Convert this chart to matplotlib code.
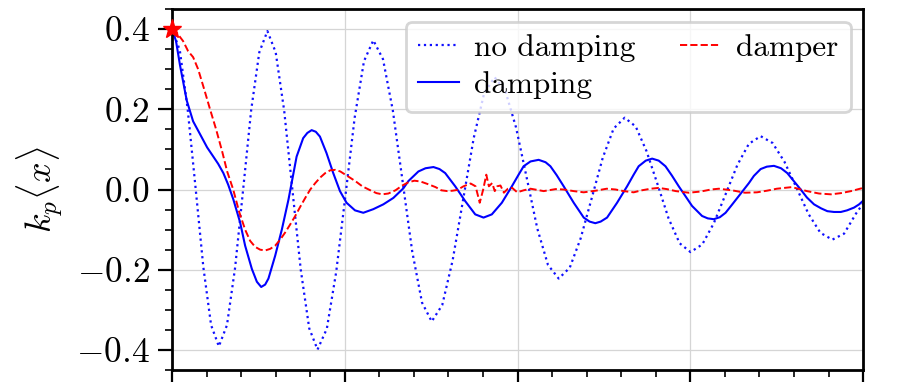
import matplotlib
matplotlib.use("Agg")
import matplotlib.pyplot as plt
from matplotlib.ticker import MultipleLocator

plt.rcParams['font.family'] = ['cmr10', 'DejaVu Serif']
plt.rcParams['mathtext.fontset'] = 'cm'
plt.rcParams['axes.formatter.use_mathtext'] = True
plt.rcParams['axes.unicode_minus'] = True

# ---- data ----
t_nodamp = [0, 0.45, 0.90, 1.36, 1.81, 2.26,
            2.71, 3.18, 3.65, 4.12, 4.58, 5.05,
            5.52, 6.00, 6.49, 6.97, 7.45, 7.94,
            8.42, 8.96, 9.50, 10.04, 10.57, 11.11,
            11.65, 12.21, 12.78, 13.34, 13.90, 14.47,
            15.03, 15.64, 16.24, 16.85, 17.46, 18.06,
            18.67, 19.29, 19.91, 20.53, 21.14, 21.76,
            22.38, 23.02, 23.65, 24.29, 24.93, 25.56,
            26.20, 26.84, 27.47, 28.11, 28.74, 29.38,
            30.01, 30.69, 31.36, 32.04, 32.72, 33.39,
            34.07, 34.76, 35.45, 36.15, 36.84, 37.53,
            38.22, 38.90, 39.59, 40.0]
x_nodamp = [0.400, 0.347, 0.202, 0.005, -0.193, -0.338,
            -0.391, -0.338, -0.195, 0.002, 0.198, 0.342,
            0.395, 0.342, 0.197, -0.002, -0.200, -0.346,
            -0.399, -0.347, -0.206, -0.014, 0.179, 0.320,
            0.372, 0.325, 0.197, 0.022, -0.154, -0.282,
            -0.329, -0.288, -0.177, -0.025, 0.128, 0.239,
            0.280, 0.246, 0.155, 0.029, -0.097, -0.188,
            -0.222, -0.195, -0.122, -0.022, 0.079, 0.152,
            0.179, 0.157, 0.095, 0.012, -0.072, -0.134,
            -0.156, -0.137, -0.084, -0.012, 0.061, 0.114,
            0.133, 0.116, 0.069, 0.004, -0.061, -0.108,
            -0.125, -0.110, -0.060, -0.035]

t_damp = [0, 0.23, 0.46, 0.85, 1.22, 1.62, 2.03, 2.39, 2.67, 2.97,
          3.25, 3.55, 3.94, 4.23, 4.62, 4.91, 5.16, 5.39, 5.58, 5.97,
          6.36, 6.74, 7.03, 7.21, 7.59, 7.83, 8.08, 8.32, 8.56, 8.94,
          9.33, 9.72, 10.10, 10.59, 11.07, 11.65, 12.23, 12.81, 13.39, 13.68,
          14.26, 14.67, 15.13, 15.48, 15.81, 16.39, 16.97, 17.55, 18.03, 18.51,
          19.09, 19.67, 20.06, 20.35, 20.75, 21.22, 21.62, 21.90, 22.26, 22.67,
          23.25, 23.83, 24.17, 24.50, 24.81, 25.18, 25.76, 26.34, 26.72, 27.01,
          27.42, 27.79, 28.17, 28.56, 28.93, 29.33, 29.74, 30.10, 30.68, 31.01,
          31.36, 31.71, 32.04, 32.41, 32.81, 33.39, 33.68, 34.07, 34.43, 34.84,
          35.25, 35.61, 35.99, 36.39, 36.75, 37.16, 37.57, 37.93, 38.32, 38.71,
          39.07, 39.48, 39.77, 40.0]
x_damp = [0.400, 0.370, 0.310, 0.222, 0.170, 0.138, 0.105, 0.082, 0.064, 0.041,
          0.012, -0.025, -0.082, -0.140, -0.198, -0.230, -0.243, -0.237, -0.222, -0.165,
          -0.099, -0.025, 0.041, 0.082, 0.128, 0.141, 0.148, 0.144, 0.132, 0.091,
          0.041, -0.004, -0.033, -0.052, -0.058, -0.049, -0.037, -0.021, 0.003, 0.021,
          0.045, 0.053, 0.056, 0.051, 0.041, 0.008, -0.029, -0.062, -0.070, -0.062,
          -0.033, 0.008, 0.037, 0.058, 0.070, 0.074, 0.068, 0.058, 0.036, 0.008,
          -0.033, -0.070, -0.080, -0.084, -0.080, -0.070, -0.033, 0.008, 0.037, 0.058,
          0.072, 0.077, 0.072, 0.058, 0.035, 0.008, -0.018, -0.041, -0.066, -0.072,
          -0.074, -0.069, -0.058, -0.038, -0.016, 0.016, 0.034, 0.051, 0.057, 0.059,
          0.053, 0.041, 0.021, 0.0, -0.020, -0.037, -0.047, -0.054, -0.056, -0.056,
          -0.052, -0.045, -0.037, -0.028]

t_damper = [0, 0.29, 0.64, 0.93, 1.22, 1.51, 1.86, 2.20, 2.55, 2.90,
            3.19, 3.54, 3.88, 4.23, 4.52, 4.81, 5.10, 5.39, 5.68, 5.97,
            6.26, 6.55, 6.84, 7.13, 7.42, 7.71, 8.00, 8.29, 8.58, 8.87,
            9.16, 9.45, 9.74, 10.03, 10.61, 11.01, 11.48, 11.83, 12.17, 12.52,
            12.93, 13.33, 13.68, 14.03, 14.38, 14.84, 15.25, 15.59, 15.94, 16.23,
            16.52, 16.87, 17.28, 17.57, 17.81, 18.01, 18.19, 18.34, 18.53, 18.68,
            18.82, 19.01, 19.21, 19.44, 19.69, 19.98, 20.35, 20.75, 21.51, 22.20,
            22.67, 23.25, 23.83, 24.52, 25.16, 25.68, 26.14, 26.72, 27.19, 27.71,
            28.17, 28.64, 29.16, 29.91, 30.61, 31.19, 31.65, 32.41, 33.16, 33.86,
            34.43, 35.01, 35.88, 36.75, 37.45, 38.14, 38.72, 39.30, 40.0]
x_damper = [0.400, 0.390, 0.370, 0.345, 0.330, 0.300, 0.250, 0.200, 0.150, 0.095,
            0.045, 0.000, -0.055, -0.100, -0.128, -0.143, -0.150, -0.152, -0.148, -0.140,
            -0.125, -0.107, -0.087, -0.066, -0.043, -0.021, 0.000, 0.016, 0.030, 0.041,
            0.048, 0.049, 0.045, 0.037, 0.021, 0.008, -0.002, -0.009, -0.012, -0.010,
            -0.002, 0.010, 0.018, 0.022, 0.020, 0.013, 0.006, -0.002, -0.004, -0.003,
            -0.001, 0.008, 0.015, 0.008, -0.033, 0.000, 0.037, 0.008, 0.016, -0.004,
            0.008, 0.010, -0.008, 0.002, 0.004, -0.007, -0.002, 0.002, -0.004, 0.001,
            0.000, -0.004, -0.007, -0.003, 0.002, 0.000, -0.004, -0.007, -0.002, 0.002,
            0.004, 0.001, -0.004, -0.008, -0.005, 0.000, 0.002, -0.002, -0.008, -0.007,
            -0.003, 0.002, 0.006, -0.004, -0.010, -0.012, -0.009, -0.004, 0.004]

start_t = [0]
start_x = [0.4]

fig = plt.figure(figsize=(8.97, 3.82), dpi=100)
ax = fig.add_axes([0.1918, 0.0314, 0.7704, 0.945])

ax.plot(t_nodamp, x_nodamp, ':', color='#1010ff', lw=1.6, label='no damping')
ax.plot(t_damp, x_damp, '-', color='#0000ff', lw=1.5, label='damping')
ax.plot(t_damper, x_damper, '--', color='#ff0000', lw=1.4, label='damper')
ax.plot(start_t, start_x, marker='*', color='#ff0000', ms=14, ls='none', zorder=5,
        clip_on=False)

ax.set_xlim(0, 40)
ax.set_ylim(-0.45, 0.45)
ax.xaxis.set_major_locator(MultipleLocator(10))
ax.xaxis.set_minor_locator(MultipleLocator(2))
ax.yaxis.set_major_locator(MultipleLocator(0.2))
ax.yaxis.set_minor_locator(MultipleLocator(0.05))
ax.grid(True, which='major', color='#d5d5d5', lw=0.9)
ax.set_axisbelow(True)

for s in ax.spines.values():
    s.set_linewidth(2.0)
ax.tick_params(which='major', direction='out', length=10, width=1.6,
               labelsize=25.5, pad=6, top=False, right=False, labelbottom=False)
ax.tick_params(which='minor', direction='out', length=5, width=1.2,
               top=False, right=False)

ax.set_ylabel(r'$k_p\langle x\rangle$', fontsize=26, labelpad=8)

leg = ax.legend(ncol=2, loc='upper right', fontsize=22.5, handlelength=1.3,
                handletextpad=0.5, columnspacing=1.4, labelspacing=0.3,
                borderpad=0.4, borderaxespad=0.4, fancybox=True, framealpha=0.8)
leg.get_frame().set_edgecolor('#cccccc')
leg.get_frame().set_linewidth(2.0)

fig.savefig('out.png', dpi=100)
